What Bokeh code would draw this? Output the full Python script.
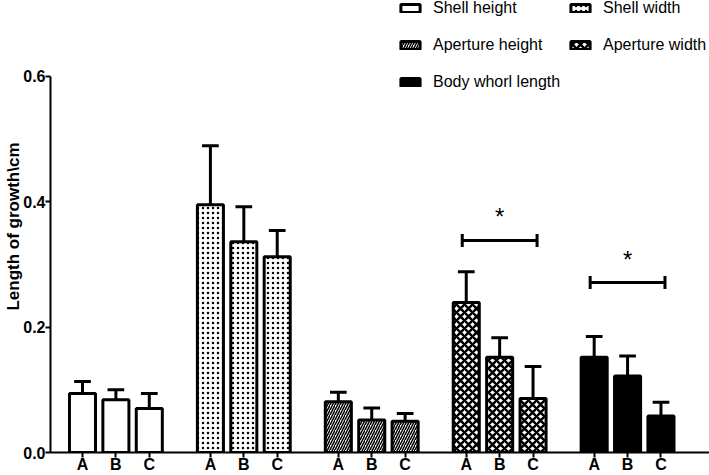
import math
from bokeh.plotting import figure
from bokeh.models import (Range1d, FixedTicker, Legend, LegendItem,
                          ColumnDataSource, NumeralTickFormatter)
from bokeh.core.properties import value
from bokeh.embed import file_html
from bokeh.resources import INLINE

# ---------------- data ----------------
bar_labels = ["A", "B", "C"]
series_names = ["Shell height", "Shell width", "Aperture height",
                "Aperture width", "Body whorl length"]

shell_height = [0.094, 0.084, 0.070]
shell_height_err = [0.019, 0.016, 0.024]
shell_width = [0.395, 0.336, 0.312]
shell_width_err = [0.094, 0.056, 0.042]
aperture_height = [0.081, 0.052, 0.050]
aperture_height_err = [0.015, 0.019, 0.012]
aperture_width = [0.239, 0.152, 0.086]
aperture_width_err = [0.049, 0.031, 0.051]
body_whorl = [0.152, 0.122, 0.058]
body_whorl_err = [0.033, 0.032, 0.022]

y_ticks = [0.0, 0.2, 0.4, 0.6]
y_title = "Length of growth\\cm"

# significance brackets (series index, bracket level, star baseline)
sig_series = [3, 4]
sig_y = [0.338, 0.271]
star_y = [0.377, 0.307]

values = [shell_height, shell_width, aperture_height, aperture_width, body_whorl]
errors = [shell_height_err, shell_width_err, aperture_height_err,
          aperture_width_err, body_whorl_err]

# ---------------- layout constants ----------------
BAR_STEP = 100
GROUP_STEP = 383
BAR_W = 78
CAP_HALF = 25
FONT = "Liberation Sans"
W, H = 709, 475
FRAME_BOTTOM_BORDER = 21

styles = [
    dict(fill_color="white"),
    dict(fill_color="white", hatch_pattern="dot", hatch_scale=5,
         hatch_weight=1, hatch_color="black"),
    dict(fill_color="white", hatch_pattern="right_diagonal_line",
         hatch_scale=5, hatch_weight=1.5, hatch_color="black"),
    dict(fill_color="white", hatch_pattern="diagonal_cross",
         hatch_scale=8, hatch_weight=2.5, hatch_color="black"),
    dict(fill_color="black"),
]

p = figure(width=W, height=H, output_backend="svg", toolbar_location=None,
           x_range=Range1d(-95.8, 1877.3), y_range=Range1d(0, 0.72063),
           min_border_left=50, min_border_right=0, min_border_top=0,
           min_border_bottom=FRAME_BOTTOM_BORDER)
p.xgrid.visible = False
p.ygrid.visible = False
p.outline_line_color = None
p.background_fill_color = "white"

renderers = []
all_pos = []
pos_labels = {}
for g, (vals, errs) in enumerate(zip(values, errors)):
    xs = [g * GROUP_STEP + i * BAR_STEP for i in range(len(vals))]
    all_pos += xs
    for x, lab in zip(xs, bar_labels):
        pos_labels[x] = lab
    tops = [v + e for v, e in zip(vals, errs)]
    src = ColumnDataSource(dict(x=xs, top=vals, upper=tops,
                                cx0=[x - CAP_HALF for x in xs],
                                cx1=[x + CAP_HALF for x in xs]))
    p.segment(x0="x", y0="top", x1="x", y1="upper", source=src,
              line_color="black", line_width=3)
    p.segment(x0="cx0", y0="upper", x1="cx1", y1="upper", source=src,
              line_color="black", line_width=3)
    r = p.vbar(x="x", top="top", bottom=0, width=BAR_W, source=src,
               line_color="black", line_width=3, **styles[g])
    renderers.append(r)

# significance brackets
for s, yb, ys in zip(sig_series, sig_y, star_y):
    xa = s * GROUP_STEP - 12
    xc = s * GROUP_STEP + 2 * BAR_STEP + 12
    p.segment(x0=[xa, xa, xc], y0=[yb, yb - 0.0105, yb - 0.0105],
              x1=[xc, xa, xc], y1=[yb, yb + 0.0105, yb + 0.0105],
              line_color="black", line_width=3)
    p.text(x=[s * GROUP_STEP + BAR_STEP], y=[ys], text=["*"],
           text_align="center", text_baseline="alphabetic",
           text_font=value(FONT), text_font_size="24px", text_color="black")

# axes
for ax in (p.xaxis[0], p.yaxis[0]):
    ax.axis_line_width = 2
    ax.axis_line_color = "black"
    ax.major_tick_line_width = 2
    ax.major_tick_line_color = "black"
    ax.major_tick_in = 0
    ax.major_tick_out = 5
    ax.minor_tick_line_color = None
    ax.major_label_text_font = FONT
    ax.major_label_text_font_style = "bold"
    ax.major_label_text_font_size = "16px"
    ax.major_label_text_color = "black"

p.xaxis.ticker = FixedTicker(ticks=all_pos)
p.xaxis.major_label_overrides = pos_labels
p.xaxis.major_label_standoff = -2

p.yaxis.ticker = FixedTicker(ticks=y_ticks)
p.yaxis.formatter = NumeralTickFormatter(format="0.0")
p.yaxis.bounds = (0, 0.6)
p.yaxis.major_label_standoff = 0
p.yaxis.axis_label = y_title
p.yaxis.axis_label_standoff = -3
p.yaxis.axis_label_text_font = FONT
p.yaxis.axis_label_text_font_style = "bold"
p.yaxis.axis_label_text_font_size = "17px"
p.yaxis.axis_label_text_color = "black"

frame_h = H - FRAME_BOTTOM_BORDER
ITEM_H = 20
SPACING = 17

def make_legend(idx, x, top):
    n = len(idx)
    height = n * ITEM_H + (n - 1) * SPACING
    lg = Legend(items=[LegendItem(label=series_names[i], renderers=[renderers[i]])
                       for i in idx],
                location=(x, frame_h - top - height), orientation="vertical",
                padding=0, margin=0, spacing=SPACING, glyph_width=24,
                glyph_height=10, label_height=ITEM_H, label_standoff=11,
                label_text_font=FONT, label_text_font_size="16px",
                label_text_color="black", border_line_color=None,
                background_fill_alpha=0)
    p.add_layout(lg, "center")

make_legend([0, 2, 4], 348, 0)
make_legend([1, 3], 518, 0)

open("out.html", "w").write(file_html(p, INLINE))
